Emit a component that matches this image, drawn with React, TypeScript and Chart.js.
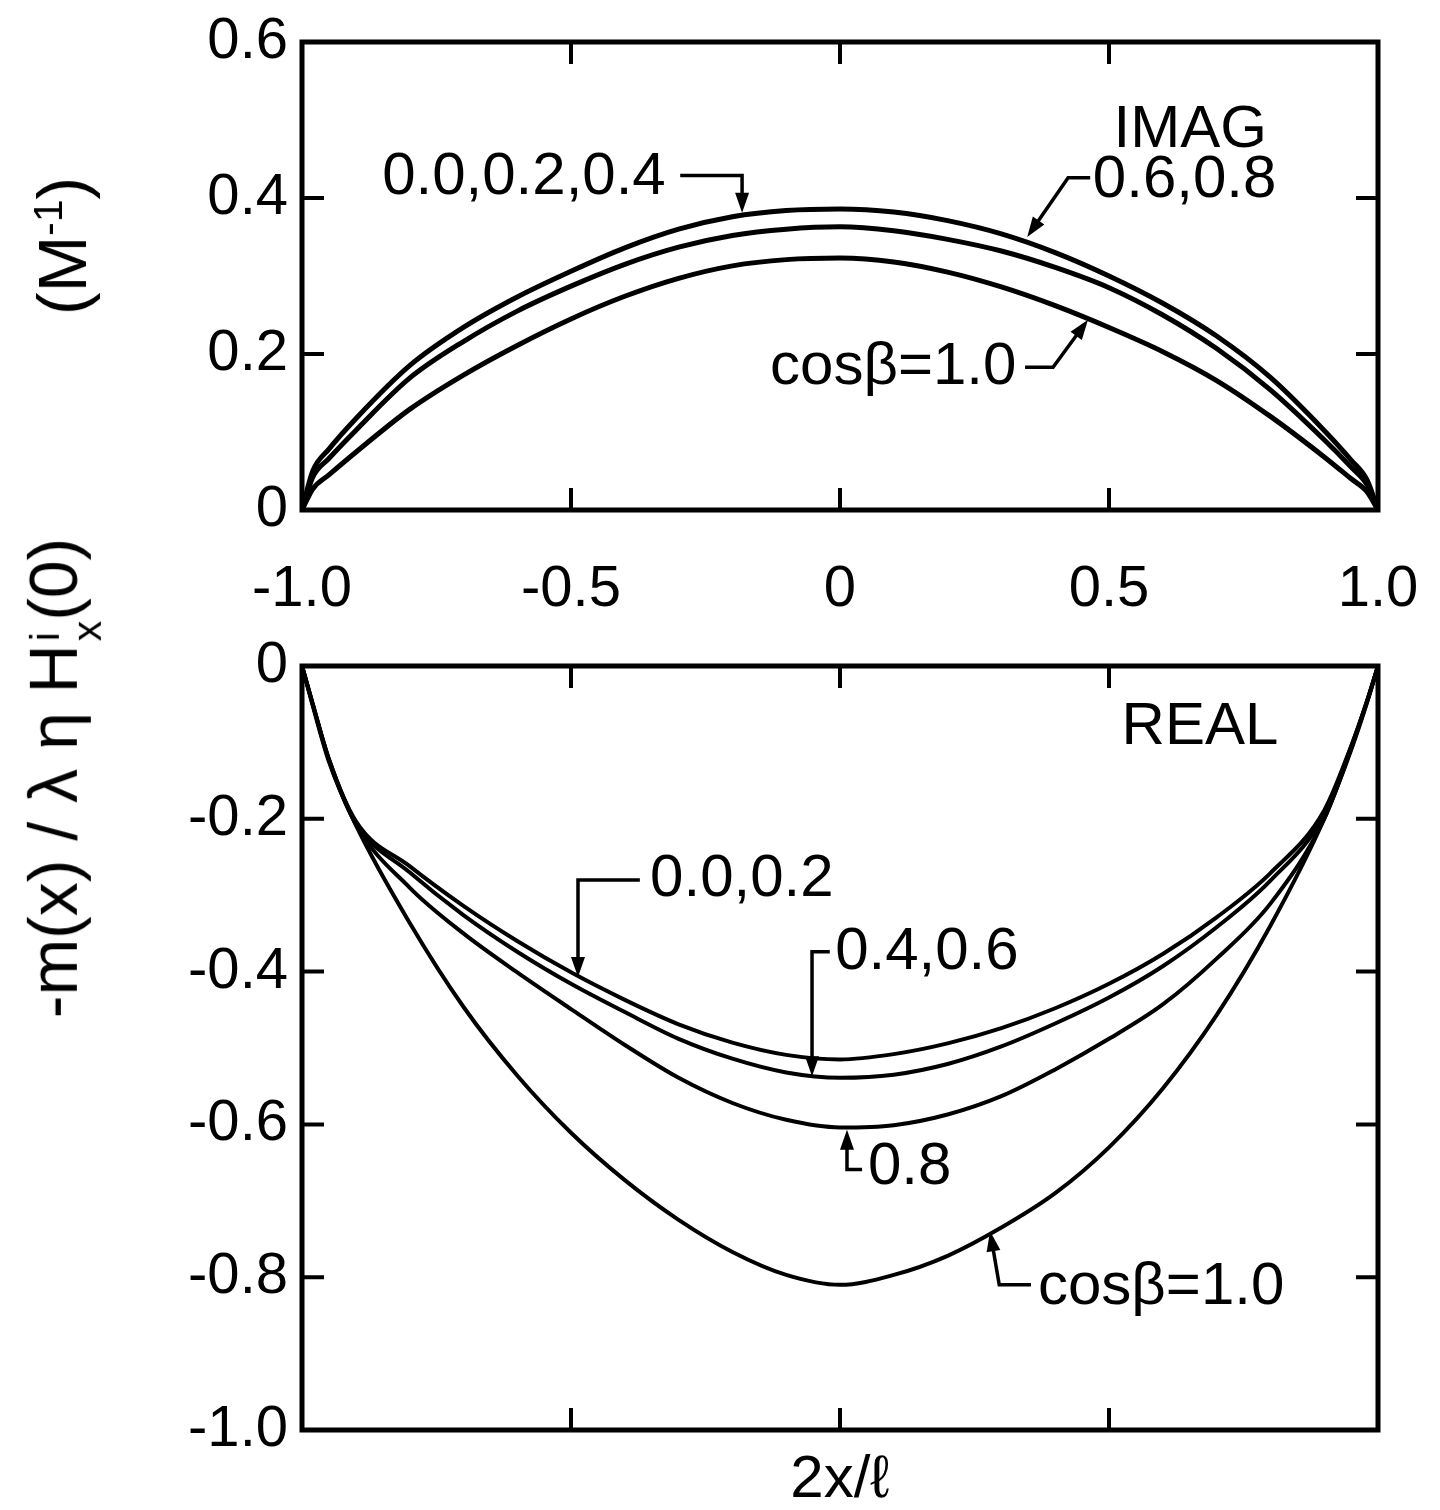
import React, { useEffect, useRef } from "react";
import { Chart, registerables } from "chart.js";

Chart.register(...registerables);

const FAMILY = "'Liberation Sans', Arial, sans-serif";

// ---- data (x = 2x/l) ----
const xGrid = [-1, -0.98, -0.95, -0.9, -0.8, -0.7, -0.6, -0.5, -0.4, -0.3, -0.2, -0.1, 0, 0.1, 0.2, 0.3, 0.4, 0.5, 0.6, 0.7, 0.8, 0.9, 0.95, 0.98, 1];

// IMAG panel
const imagCos000204 = [0, 0.05, 0.078, 0.117, 0.185, 0.234, 0.273, 0.306, 0.336, 0.36, 0.376, 0.384, 0.386, 0.382, 0.371, 0.354, 0.33, 0.3, 0.265, 0.223, 0.17, 0.102, 0.064, 0.038, 0];
const imagCos0608 = [0, 0.042, 0.066, 0.102, 0.169, 0.216, 0.255, 0.287, 0.315, 0.337, 0.352, 0.36, 0.363, 0.358, 0.347, 0.332, 0.311, 0.285, 0.25, 0.207, 0.154, 0.09, 0.055, 0.032, 0];
const imagCos10 = [0, 0.027, 0.045, 0.074, 0.129, 0.173, 0.211, 0.245, 0.274, 0.297, 0.313, 0.321, 0.323, 0.318, 0.305, 0.286, 0.262, 0.234, 0.203, 0.166, 0.12, 0.068, 0.04, 0.023, 0];

// REAL panel
const realCos0002 = [0, -0.05, -0.122, -0.203, -0.262, -0.314, -0.36, -0.401, -0.437, -0.469, -0.493, -0.509, -0.515, -0.508, -0.494, -0.474, -0.448, -0.416, -0.377, -0.329, -0.271, -0.189, -0.105, -0.045, 0];
const realCos0406 = [0, -0.05, -0.122, -0.205, -0.27, -0.326, -0.374, -0.416, -0.453, -0.488, -0.514, -0.532, -0.539, -0.535, -0.521, -0.498, -0.468, -0.434, -0.393, -0.342, -0.281, -0.195, -0.106, -0.045, 0];
const realCos08 = [0, -0.05, -0.123, -0.207, -0.29, -0.35, -0.401, -0.449, -0.496, -0.539, -0.572, -0.594, -0.604, -0.601, -0.587, -0.563, -0.528, -0.488, -0.443, -0.383, -0.311, -0.2, -0.108, -0.046, 0];
const realCos10 = [0, -0.052, -0.125, -0.208, -0.336, -0.446, -0.536, -0.611, -0.673, -0.725, -0.767, -0.797, -0.81, -0.797, -0.772, -0.735, -0.69, -0.63, -0.553, -0.457, -0.34, -0.2, -0.11, -0.047, 0];

// ---- ticks ----
const xTickValues = [-1, -0.5, 0, 0.5, 1];
const xTickLabels = ["-1.0", "-0.5", "0", "0.5", "1.0"];
const yTickValuesTop = [0, 0.2, 0.4, 0.6];
const yTickLabelsTop = ["0", "0.2", "0.4", "0.6"];
const yTickValuesBottom = [-1, -0.8, -0.6, -0.4, -0.2, 0];
const yTickLabelsBottom = ["-1.0", "-0.8", "-0.6", "-0.4", "-0.2", "0"];

// ---- annotations (data coordinates) ----
const topLabels = [
  { text: "IMAG", x: 0.651, y: 0.487, align: "center" },
  { text: "0.0,0.2,0.4", x: -0.851, y: 0.426, align: "left" },
  { text: "0.6,0.8", x: 0.47, y: 0.423, align: "left" },
  { text: "cosβ=1.0", x: -0.13, y: 0.183, align: "left" },
];
const topLeaders = [
  [[-0.297, 0.429], [-0.182, 0.429], [-0.182, 0.381]],
  [[0.465, 0.426], [0.424, 0.426], [0.348, 0.35]],
  [[0.344, 0.183], [0.396, 0.183], [0.461, 0.244]],
];
const bottomLabels = [
  { text: "REAL", x: 0.669, y: -0.081, align: "center" },
  { text: "0.0,0.2", x: -0.353, y: -0.28, align: "left" },
  { text: "0.4,0.6", x: -0.009, y: -0.375, align: "left" },
  { text: "0.8", x: 0.052, y: -0.656, align: "left" },
  { text: "cosβ=1.0", x: 0.368, y: -0.813, align: "left" },
];
const bottomLeaders = [
  [[-0.372, -0.28], [-0.487, -0.28], [-0.487, -0.407]],
  [[-0.019, -0.374], [-0.052, -0.374], [-0.052, -0.537]],
  [[0.041, -0.659], [0.013, -0.659], [0.013, -0.607]],
  [[0.355, -0.81], [0.296, -0.81], [0.279, -0.74]],
];

function labelFor(values: number[], labels: string[], v: number) {
  const i = values.findIndex((t) => Math.abs(t - v) < 1e-6);
  return i >= 0 ? labels[i] : "";
}

function series(ys: number[]) {
  return xGrid.map((x, i) => ({ x, y: ys[i] }));
}

function framePlugin(yInner: number[], labels: any[], leaders: number[][][]) {
  const xInner = xTickValues.filter((v) => v > -1 && v < 1);
  return {
    id: "frameAndNotes",
    afterDatasetsDraw(chart: any) {
      const { ctx, chartArea: a, scales } = chart;
      const xs = scales.x;
      const ys = scales.y;
      ctx.save();
      ctx.strokeStyle = "#000";
      ctx.fillStyle = "#000";
      ctx.lineWidth = 5;
      ctx.strokeRect(a.left, a.top, a.right - a.left, a.bottom - a.top);
      ctx.lineWidth = 4;
      ctx.beginPath();
      for (const v of xInner) {
        const p = xs.getPixelForValue(v);
        ctx.moveTo(p, a.top);
        ctx.lineTo(p, a.top + 22);
        ctx.moveTo(p, a.bottom);
        ctx.lineTo(p, a.bottom - 22);
      }
      for (const v of yInner) {
        const p = ys.getPixelForValue(v);
        ctx.moveTo(a.left, p);
        ctx.lineTo(a.left + 22, p);
        ctx.moveTo(a.right, p);
        ctx.lineTo(a.right - 22, p);
      }
      ctx.stroke();

      // labels
      ctx.font = `60px ${FAMILY}`;
      ctx.textBaseline = "middle";
      for (const l of labels) {
        ctx.textAlign = l.align;
        ctx.fillText(l.text, xs.getPixelForValue(l.x), ys.getPixelForValue(l.y));
      }
      // leaders with arrowheads
      ctx.lineWidth = 3.5;
      ctx.lineJoin = "miter";
      for (const pts of leaders) {
        const px = pts.map(([x, y]) => [xs.getPixelForValue(x), ys.getPixelForValue(y)]);
        const n = px.length;
        const [tx, ty] = px[n - 1];
        const [sx, sy] = px[n - 2];
        const ang = Math.atan2(ty - sy, tx - sx);
        const len = 20;
        const hw = 7;
        ctx.beginPath();
        ctx.moveTo(px[0][0], px[0][1]);
        for (let i = 1; i < n - 1; i++) ctx.lineTo(px[i][0], px[i][1]);
        ctx.lineTo(tx - Math.cos(ang) * len * 0.8, ty - Math.sin(ang) * len * 0.8);
        ctx.stroke();
        ctx.beginPath();
        ctx.moveTo(tx, ty);
        ctx.lineTo(tx - Math.cos(ang) * len - Math.sin(ang) * hw, ty - Math.sin(ang) * len + Math.cos(ang) * hw);
        ctx.lineTo(tx - Math.cos(ang) * len + Math.sin(ang) * hw, ty - Math.sin(ang) * len - Math.cos(ang) * hw);
        ctx.closePath();
        ctx.fill();
      }
      ctx.restore();
    },
  };
}

const tickFont = { family: FAMILY, size: 58, lineHeight: 1 };

function makeConfig(opts: any) {
  const { datasets, width, yMin, yMax, yVals, yLabels, padTop, xHeight, showXTicks, xTitle, labels, leaders } = opts;
  return {
    type: "line",
    data: {
      datasets: datasets.map((d: any) => ({
        data: series(d),
        borderColor: "#000",
        borderWidth: width,
        pointRadius: 0,
        fill: false,
        cubicInterpolationMode: "monotone",
      })),
    },
    options: {
      responsive: false,
      animation: false,
      devicePixelRatio: 1,
      layout: { padding: { top: padTop, right: 62, left: 0, bottom: 0 } },
      plugins: { legend: { display: false }, tooltip: { enabled: false } },
      scales: {
        x: {
          type: "linear",
          min: -1,
          max: 1,
          afterBuildTicks: (s: any) => {
            s.ticks = xTickValues.map((v) => ({ value: v }));
          },
          ticks: {
            display: showXTicks,
            callback: (v: number) => labelFor(xTickValues, xTickLabels, v),
            font: tickFont,
            color: "#000",
            padding: 51,
            maxRotation: 0,
            autoSkip: false,
          },
          title: xTitle
            ? { display: true, text: xTitle, color: "#000", font: { family: FAMILY, size: 60, lineHeight: 1 }, padding: { top: 0, bottom: 0 } }
            : { display: false },
          grid: { display: false, drawTicks: false },
          border: { display: false },
          afterFit: (s: any) => {
            s.height = xHeight;
            s.paddingLeft = 0;
            s.paddingRight = 0;
          },
        },
        y: {
          type: "linear",
          min: yMin,
          max: yMax,
          afterBuildTicks: (s: any) => {
            s.ticks = yVals.map((v: number) => ({ value: v }));
          },
          ticks: {
            callback: (v: number) => labelFor(yVals, yLabels, v),
            font: tickFont,
            color: "#000",
            padding: 14,
            autoSkip: false,
          },
          grid: { display: false, drawTicks: false },
          border: { display: false },
          afterFit: (s: any) => {
            s.width = 302;
            s.paddingTop = 0;
            s.paddingBottom = 0;
          },
        },
      },
    },
    plugins: [framePlugin(yVals.filter((v: number) => v > yMin && v < yMax), labels, leaders)],
  };
}

export default function App() {
  const topRef = useRef<HTMLCanvasElement>(null);
  const botRef = useRef<HTMLCanvasElement>(null);

  useEffect(() => {
    const top = new Chart(
      topRef.current as HTMLCanvasElement,
      makeConfig({
        datasets: [imagCos000204, imagCos0608, imagCos10],
        width: 5,
        yMin: 0,
        yMax: 0.6,
        yVals: yTickValuesTop,
        yLabels: yTickLabelsTop,
        padTop: 42,
        xHeight: 130,
        showXTicks: true,
        xTitle: null,
        labels: topLabels,
        leaders: topLeaders,
      }) as any
    );
    const bottom = new Chart(
      botRef.current as HTMLCanvasElement,
      makeConfig({
        datasets: [realCos0002, realCos0406, realCos08, realCos10],
        width: 4,
        yMin: -1,
        yMax: 0,
        yVals: yTickValuesBottom,
        yLabels: yTickLabelsBottom,
        padTop: 26,
        xHeight: 80,
        showXTicks: false,
        xTitle: "2x/ℓ",
        labels: bottomLabels,
        leaders: bottomLeaders,
      }) as any
    );
    return () => {
      top.destroy();
      bottom.destroy();
    };
  }, []);

  const titleStyle: React.CSSProperties = {
    position: "absolute",
    transform: "translate(-50%, -50%) rotate(-90deg)",
    whiteSpace: "nowrap",
    fontFamily: FAMILY,
    fontSize: 68,
    lineHeight: 1,
    color: "#000",
  };

  return (
    <div style={{ position: "absolute", left: 0, top: 0, width: 1440, height: 1510, background: "#fff", overflow: "hidden" }}>
      <canvas ref={topRef} width={1440} height={640} style={{ position: "absolute", left: 0, top: 0 }} />
      <canvas ref={botRef} width={1440} height={870} style={{ position: "absolute", left: 0, top: 640 }} />
      <div style={{ ...titleStyle, left: 64, top: 778 }}>
        -m(x) / λ η H
        <span
          style={{
            display: "inline-flex",
            flexDirection: "column",
            fontSize: "0.6em",
            lineHeight: 1.05,
            verticalAlign: "0.45em",
            marginLeft: 3,
          }}
        >
          <span>i</span>
          <span>x</span>
        </span>
        (0)
      </div>
      <div style={{ ...titleStyle, left: 62, top: 246 }}>
        (M<sup style={{ fontSize: "0.6em" }}>-1</sup>)
      </div>
    </div>
  );
}
